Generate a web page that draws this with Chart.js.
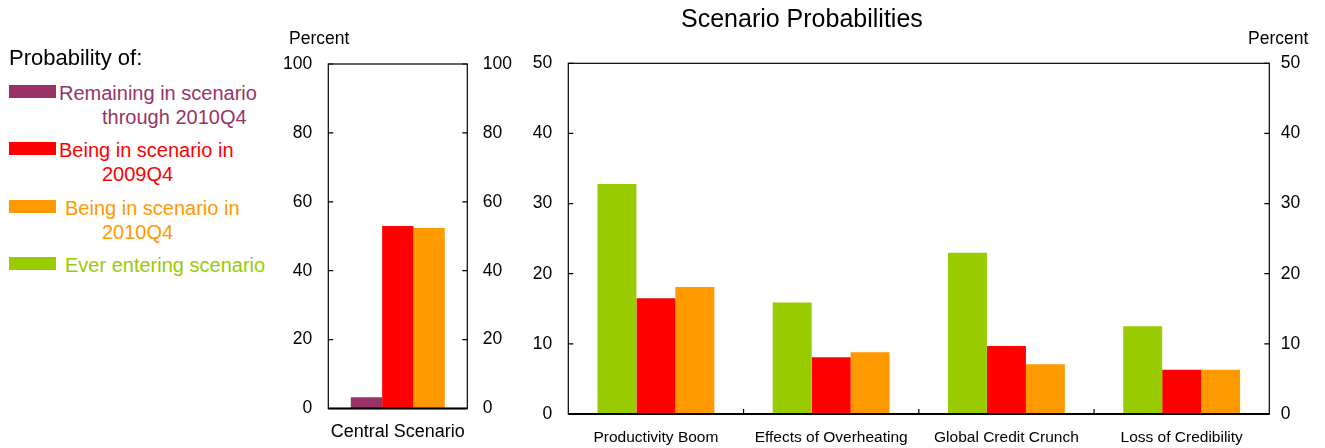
<!DOCTYPE html>
<html>
<head>
<meta charset="utf-8">
<script src="https://cdn.jsdelivr.net/npm/chart.js@4.4.1/dist/chart.umd.min.js"></script>
<style>
  body { margin: 0; background: #fff; font-family: "Liberation Sans", Arial, sans-serif; }
  #page { position: relative; width: 1325px; height: 448px; overflow: hidden; }
  canvas { position: absolute; top: 0; }
  .txt { position: absolute; white-space: nowrap; color: #000; }
  .swatch { position: absolute; left: 9px; width: 47px; height: 13px; }
</style>
</head>
<body>
<div id="page">
  <canvas id="centralChart" width="260" height="448" style="left:270px"></canvas>
  <canvas id="scenarioChart" width="825" height="448" style="left:500px"></canvas>
  <div class="txt" style="left:681px; top:3px; font-size:25px; line-height:30px;">Scenario Probabilities</div>
  <div class="txt" style="left:289px; top:28px; font-size:17.5px; line-height:21px;">Percent</div>
  <div class="txt" style="left:1248px; top:28px; font-size:17.5px; line-height:21px;">Percent</div>
  <div class="txt" style="left:9px; top:45px; font-size:22px; line-height:26px;">Probability of:</div>
  <div id="legend"></div>
</div>
<script>
// central scenario (left panel)
const centralCategory = ['Central Scenario'];
const centralRemaining = [3.3];
const central2009Q4 = [53.0];
const central2010Q4 = [52.4];
const centralTicks = [0, 20, 40, 60, 80, 100];

// alternative scenarios (right panel)
const scenarios = ['Productivity Boom', 'Effects of Overheating', 'Global Credit Crunch', 'Loss of Credibility'];
const everEntering = [32.8, 15.9, 23.0, 12.5];
const scenario2009Q4 = [16.5, 8.1, 9.7, 6.3];
const scenario2010Q4 = [18.1, 8.8, 7.1, 6.3];
const scenarioTicks = [0, 10, 20, 30, 40, 50];

const legendLabels = [
  ['Remaining in scenario', 'through 2010Q4'],
  ['Being in scenario in', '2009Q4'],
  ['Being in scenario in', '2010Q4'],
  ['Ever entering scenario']
];
const purple = '#993366', red = '#FF0000', orange = '#FF9900', green = '#99CC00';
const legendColors = [purple, red, orange, green];

Chart.defaults.font.family = '"Liberation Sans", Arial, sans-serif';
Chart.defaults.color = '#000';

// legend, drawn as html text next to the charts
const swatchTops = [85, 142, 200, 257];
const textLefts = [59, 59, 65, 65];
const legendEl = document.getElementById('legend');
legendLabels.forEach(function (lines, i) {
  const sw = document.createElement('div');
  sw.className = 'swatch';
  sw.style.top = swatchTops[i] + 'px';
  sw.style.background = legendColors[i];
  legendEl.appendChild(sw);
  lines.forEach(function (line, j) {
    const t = document.createElement('div');
    t.className = 'txt';
    t.textContent = line;
    t.style.fontSize = '20px';
    t.style.lineHeight = '24px';
    t.style.color = legendColors[i];
    t.style.left = (j === 0 ? textLefts[i] : 102) + 'px';
    t.style.top = (swatchTops[i] - 4 + j * 24) + 'px';
    legendEl.appendChild(t);
  });
});

// box around the plot area with ticks pointing inward
const frameTicks = {
  id: 'frameTicks',
  afterDatasetsDraw(chart) {
    const { ctx, chartArea: a, scales } = chart;
    ctx.save();
    ctx.strokeStyle = '#000';
    ctx.lineWidth = 1.2;
    ctx.strokeRect(a.left, a.top, a.right - a.left, a.bottom - a.top);
    ctx.lineWidth = 2;
    ctx.beginPath();
    ctx.moveTo(a.left, a.bottom);
    ctx.lineTo(a.right, a.bottom);
    ctx.stroke();
    ctx.lineWidth = 1.2;
    ctx.beginPath();
    scales.y.ticks.forEach(function (t) {
      const py = scales.y.getPixelForValue(t.value);
      ctx.moveTo(a.left, py); ctx.lineTo(a.left + 5, py);
      ctx.moveTo(a.right - 5, py); ctx.lineTo(a.right, py);
    });
    const x = scales.x;
    for (let i = 1; i < x.ticks.length; i++) {
      const px = (x.getPixelForValue(i - 1) + x.getPixelForValue(i)) / 2;
      ctx.moveTo(px, a.bottom); ctx.lineTo(px, a.bottom - 5);
    }
    ctx.stroke();
    ctx.restore();
  }
};

function yAxis(pos, max, ticks, width, pad) {
  return {
    position: pos,
    min: 0,
    max: max,
    afterBuildTicks: function (s) { s.ticks = ticks.map(function (v) { return { value: v }; }); },
    afterFit: function (s) { s.width = width; },
    grid: { display: false, drawTicks: false, tickLength: 0 },
    border: { display: false },
    ticks: { padding: pad, font: { size: 17.5 }, color: '#000' }
  };
}

new Chart(document.getElementById('centralChart').getContext('2d'), {
  type: 'bar',
  data: {
    labels: centralCategory,
    datasets: [
      { label: legendLabels[0].join(' '), data: centralRemaining, backgroundColor: purple },
      { label: legendLabels[1].join(' '), data: central2009Q4, backgroundColor: red },
      { label: legendLabels[2].join(' '), data: central2010Q4, backgroundColor: orange }
    ]
  },
  options: {
    responsive: false,
    animation: false,
    devicePixelRatio: 1,
    layout: { padding: { top: 64, left: 0, right: 0, bottom: 0 } },
    datasets: { bar: { barPercentage: 1, categoryPercentage: 0.676, borderWidth: 0 } },
    plugins: { legend: { display: false }, tooltip: { enabled: false } },
    scales: {
      x: {
        grid: { display: false, drawTicks: false, tickLength: 0 },
        border: { display: false },
        afterFit: function (s) { s.height = 39.5; },
        ticks: { padding: 13, font: { size: 18 }, color: '#000', maxRotation: 0 }
      },
      y: yAxis('left', 100, centralTicks, 58.3, 16),
      y2: yAxis('right', 100, centralTicks, 62.7, 15.5)
    }
  },
  plugins: [frameTicks]
});

new Chart(document.getElementById('scenarioChart').getContext('2d'), {
  type: 'bar',
  data: {
    labels: scenarios,
    datasets: [
      { label: legendLabels[3].join(' '), data: everEntering, backgroundColor: green },
      { label: legendLabels[1].join(' '), data: scenario2009Q4, backgroundColor: red },
      { label: legendLabels[2].join(' '), data: scenario2010Q4, backgroundColor: orange }
    ]
  },
  options: {
    responsive: false,
    animation: false,
    devicePixelRatio: 1,
    layout: { padding: { top: 63.3, left: 0, right: 0, bottom: 0 } },
    datasets: { bar: { barPercentage: 1, categoryPercentage: 0.667, borderWidth: 0 } },
    plugins: { legend: { display: false }, tooltip: { enabled: false } },
    scales: {
      x: {
        grid: { display: false, drawTicks: false, tickLength: 0 },
        border: { display: false },
        afterFit: function (s) { s.height = 34; },
        ticks: { padding: 14, font: { size: 15.5 }, color: '#000', maxRotation: 0, autoSkip: false }
      },
      y: yAxis('left', 50, scenarioTicks, 68.3, 16),
      y2: yAxis('right', 50, scenarioTicks, 55.7, 11.5)
    }
  },
  plugins: [frameTicks]
});
</script>
</body>
</html>
